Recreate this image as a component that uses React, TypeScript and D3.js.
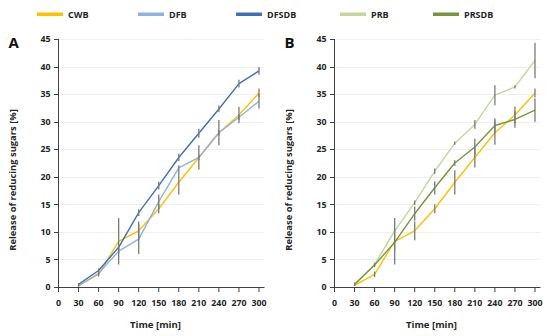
import { useEffect, useRef } from "react";
import * as d3 from "d3";

// time points [min]
const times = [30, 60, 90, 120, 150, 180, 210, 240, 270, 300];
const xTicks = [0, 30, 60, 90, 120, 150, 180, 210, 240, 270, 300];
const yTicks = [0, 5, 10, 15, 20, 25, 30, 35, 40, 45];

// release of reducing sugars [%]
const cwb = [0.3, 2.3, 8.3, 10.2, 14.2, 19.0, 23.5, 28.0, 31.2, 35.2];
const dfb = [0.2, 2.5, 6.5, 8.7, 15.5, 21.6, 23.5, 28.0, 30.8, 33.7];
const dfsdb = [0.5, 3.0, 7.2, 13.5, 18.4, 23.5, 27.9, 32.3, 36.9, 39.2];
const prb = [0.3, 4.1, 10.2, 15.3, 21.0, 26.1, 29.5, 34.8, 36.3, 41.1];
const prsdb = [0.5, 4.0, 8.1, 13.3, 18.0, 22.5, 25.4, 29.3, 30.4, 32.1];

// error bars (+/-)
const cwbErrA = [0.2, 0.4, 4.2, 1.7, 0.8, 2.2, 2.2, 2.3, 1.5, 0.8];
const dfbErr = [0.1, 0.3, 0.5, 2.7, 1.3, 0.5, 0.5, 0.5, 0.5, 1.3];
const dfsdbErr = [0.2, 0.4, 0.5, 0.6, 0.7, 0.7, 0.8, 0.6, 0.7, 0.7];
const cwbErrB = [0.1, 0.5, 4.2, 1.7, 0.8, 2.2, 1.8, 2.2, 1.5, 0.8];
const prbErr = [0.1, 0.2, 0.4, 0.4, 0.5, 0.3, 0.8, 1.8, 0.3, 3.2];
const prsdbErr = [0.3, 0.4, 1.5, 1.3, 1.2, 0.5, 1.5, 1.3, 1.5, 2.1];

const legendItems = [
  { label: "CWB", color: "#ffc000", x: 37 },
  { label: "DFB", color: "#8db3e2", x: 138 },
  { label: "DFSDB", color: "#3f6fb9", x: 236 },
  { label: "PRB", color: "#c4d79b", x: 340 },
  { label: "PRSDB", color: "#77963d", x: 433 },
];

const FONT = "'Open Sans', sans-serif";

export default function App() {
  const ref = useRef<SVGSVGElement>(null);

  useEffect(() => {
    const svg = d3.select(ref.current);
    svg.selectAll("*").remove();

    const textStyle = (size: number) => (sel: any) => sel
      .style("font-family", FONT).style("font-size", `${size}px`)
      .style("font-weight", "700").style("fill", "#262626");

    // legend
    legendItems.forEach(d => {
      svg.append("rect")
        .attr("x", d.x).attr("y", 12.5)
        .attr("width", 26).attr("height", 3.5)
        .attr("fill", d.color);
      svg.append("text")
        .attr("x", d.x + 31).attr("y", 17.5)
        .call(textStyle(9))
        .text(d.label);
    });

    const panels = [
      {
        letter: "A", left: 58.5,
        series: [
          { values: cwb, err: cwbErrA, color: "#ffc000" },
          { values: dfb, err: dfbErr, color: "#8db3e2" },
          { values: dfsdb, err: dfsdbErr, color: "#3f6fb9" },
        ],
      },
      {
        letter: "B", left: 334.5,
        series: [
          { values: prb, err: prbErr, color: "#c4d79b" },
          { values: cwb, err: cwbErrB, color: "#ffc000" },
          { values: prsdb, err: prsdbErr, color: "#77963d" },
        ],
      },
    ];

    panels.forEach(p => {
      const x = d3.scaleLinear().domain([0, 300]).range([p.left, p.left + 200.5]);
      const y = d3.scaleLinear().domain([0, 45]).range([287, 39]);
      const g = svg.append("g");

      // grid
      g.selectAll(".grid")
        .data(yTicks.slice(1))
        .enter().append("line")
        .attr("x1", p.left).attr("x2", p.left + 206)
        .attr("y1", d => Math.round(y(d)) + 0.5).attr("y2", d => Math.round(y(d)) + 0.5)
        .attr("stroke", "#efefef").attr("stroke-width", 1);

      // lines
      const line = d3.line<number>()
        .x((_, i) => x(times[i]))
        .y(d => y(d));

      p.series.forEach(s => {
        g.append("path")
          .attr("d", line(s.values))
          .attr("fill", "none")
          .attr("stroke", s.color)
          .attr("stroke-width", 1.4)
          .attr("stroke-linejoin", "round");
      });

      // error bars
      p.series.forEach(s => {
        g.selectAll(null)
          .data(s.values)
          .enter().append("line")
          .attr("x1", (_, i) => x(times[i])).attr("x2", (_, i) => x(times[i]))
          .attr("y1", (d, i) => y(d - s.err[i])).attr("y2", (d, i) => y(d + s.err[i]))
          .attr("stroke", "#7a7a7a").attr("stroke-width", 1.3);
      });

      // axes
      const axisColor = "#404040";
      g.append("line")
        .attr("x1", p.left).attr("x2", p.left + 206)
        .attr("y1", 287.5).attr("y2", 287.5)
        .attr("stroke", axisColor).attr("stroke-width", 1);
      g.append("line")
        .attr("x1", p.left).attr("x2", p.left)
        .attr("y1", 39).attr("y2", 288)
        .attr("stroke", axisColor).attr("stroke-width", 1);

      g.selectAll(".xt").data(xTicks).enter().append("line")
        .attr("x1", d => x(d)).attr("x2", d => x(d))
        .attr("y1", 287.5).attr("y2", 292)
        .attr("stroke", axisColor);
      g.selectAll(".yt").data(yTicks).enter().append("line")
        .attr("x1", p.left - 4.5).attr("x2", p.left)
        .attr("y1", d => Math.round(y(d)) + 0.5).attr("y2", d => Math.round(y(d)) + 0.5)
        .attr("stroke", axisColor);

      g.selectAll(".xl").data(xTicks).enter().append("text")
        .attr("x", d => x(d)).attr("y", 306)
        .attr("text-anchor", "middle")
        .call(textStyle(8.8))
        .text(d => d);
      g.selectAll(".yl").data(yTicks).enter().append("text")
        .attr("x", p.left - 8).attr("y", d => y(d) + 3.2)
        .attr("text-anchor", "end")
        .call(textStyle(8.8))
        .text(d => d);

      // titles
      g.append("text")
        .attr("x", p.left + 97).attr("y", 327.5)
        .attr("text-anchor", "middle")
        .call(textStyle(9.6))
        .text("Time [min]");
      g.append("text")
        .attr("transform", `translate(${p.left - 43},180) rotate(-90)`)
        .attr("text-anchor", "middle")
        .call(textStyle(9.4))
        .text("Release of reducing sugars [%]");

      g.append("text")
        .attr("x", p.left - 50).attr("y", 48)
        .style("font-family", FONT).style("font-size", "15px")
        .style("font-weight", "700").style("fill", "#111")
        .text(p.letter);
    });
  }, []);

  return (
    <div style={{ position: "fixed", left: 0, top: 0, width: 550, height: 336, background: "#fff" }}>
      <svg ref={ref} width={550} height={336} />
    </div>
  );
}
